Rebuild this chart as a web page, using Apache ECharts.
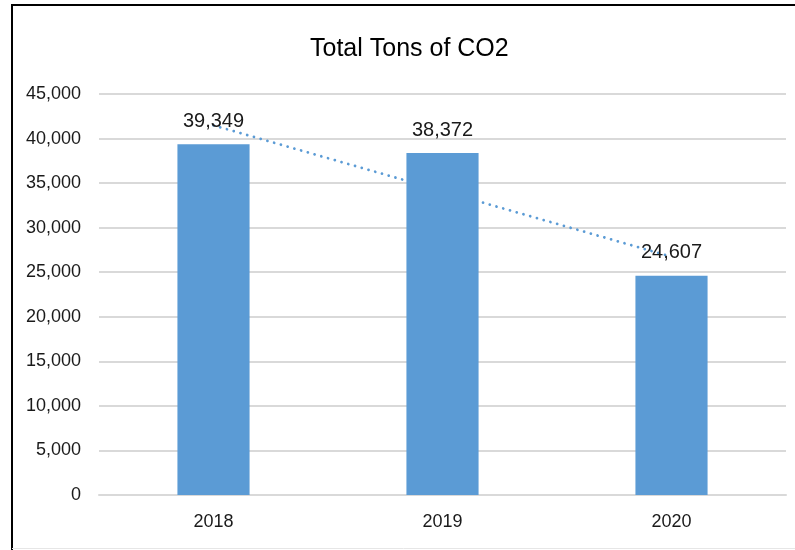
<!DOCTYPE html>
<html>
<head>
<meta charset="utf-8">
<script src="https://cdn.jsdelivr.net/npm/echarts@6/dist/echarts.min.js"></script>
<style>
html,body{margin:0;padding:0;background:#fff;}
#chart{width:795px;height:550px;}
</style>
</head>
<body>
<div id="chart"></div>
<script>
var categories = ['2018', '2019', '2020'];
var tons = [39349, 38372, 24607];
var trend = [41480, 34109, 26738];
var yTicks = [0, 5000, 10000, 15000, 20000, 25000, 30000, 35000, 40000, 45000];

var chart = echarts.init(document.getElementById('chart'), null, {renderer: 'canvas'});
var font = '"Liberation Sans", Arial, sans-serif';
chart.setOption({
  animation: false,
  backgroundColor: '#ffffff',
  title: {
    text: 'Total Tons of CO2',
    left: 305, top: 32,
    textStyle: {fontFamily: font, fontSize: 25, fontWeight: 'normal', color: '#000000'}
  },
  grid: {left: 99, right: 9, top: 94, bottom: 55, containLabel: false},
  xAxis: {
    type: 'category',
    data: categories,
    axisLine: {show: true, lineStyle: {color: '#D9D9D9', width: 2}},
    axisTick: {show: false},
    axisLabel: {fontFamily: font, fontSize: 18, color: '#1a1a1a', margin: 18}
  },
  yAxis: {
    type: 'value',
    min: yTicks[0],
    max: yTicks[yTicks.length - 1],
    interval: yTicks[1] - yTicks[0],
    axisLine: {show: false},
    axisTick: {show: false},
    splitLine: {lineStyle: {color: '#D9D9D9', width: 2}},
    axisLabel: {
      fontFamily: font, fontSize: 18, color: '#1a1a1a', margin: 18,
      formatter: function (v) { return v.toLocaleString('en-US'); }
    }
  },
  series: [
    {
      type: 'line',
      data: trend,
      z: 1,
      symbol: 'none',
      lineStyle: {color: '#5B9BD5', width: 2.8, type: [0.01, 7], cap: 'round'},
      silent: true
    },
    {
      type: 'bar',
      data: tons,
      z: 2,
      barWidth: '31.5%',
      itemStyle: {color: '#5B9BD5'},
      label: {
        show: true, position: 'top', distance: 13,
        fontFamily: font, fontSize: 20, color: '#1a1a1a',
        formatter: function (p) { return p.value.toLocaleString('en-US'); }
      }
    }
  ],
  graphic: [
    {type: 'line', shape: {x1: 11, y1: 5, x2: 800, y2: 5}, style: {stroke: '#000', lineWidth: 2}, z: 10},
    {type: 'line', shape: {x1: 12, y1: 4, x2: 12, y2: 550}, style: {stroke: '#000', lineWidth: 2}, z: 10},
    {type: 'line', shape: {x1: 12, y1: 548.5, x2: 795, y2: 548.5}, style: {stroke: '#E6E6E6', lineWidth: 1}, z: 10}
  ]
});
</script>
</body>
</html>
